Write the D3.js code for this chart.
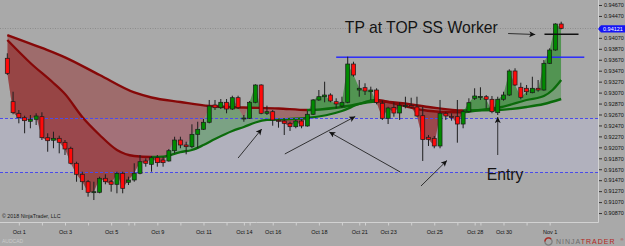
<!DOCTYPE html>
<html>
<head>
<meta charset="utf-8">
<script src="https://cdn.jsdelivr.net/npm/d3@7"></script>
<style>
  html, body { margin: 0; padding: 0; background: #a9a9a9; overflow: hidden; }
  svg { display: block; font-family: 'Liberation Sans', Arial, sans-serif; }
</style>
</head>
<body>
<div id="app"></div>
<script>
// AUDCAD 6h candles, Oct 1 - Nov 1 2018
const opens = [
  0.93697, 0.92904, 0.92692, 0.92612, 0.92546, 0.92582, 0.92630, 0.92246, 0.92199, 0.92235,
  0.92162, 0.92053, 0.91779, 0.91578, 0.91442, 0.91249, 0.91249, 0.91505, 0.91442, 0.91395,
  0.91596, 0.91432, 0.91474, 0.91596, 0.91821, 0.91760, 0.91881, 0.91839, 0.91821, 0.92009,
  0.92204, 0.92113, 0.92082, 0.92308, 0.92400, 0.92528, 0.92844, 0.92794, 0.92893, 0.92770,
  0.92977, 0.92593, 0.92601, 0.92893, 0.93209, 0.92692, 0.92721, 0.92564, 0.92551, 0.92509,
  0.92447, 0.92551, 0.92460, 0.92674, 0.92935, 0.92995, 0.93026, 0.92904, 0.92825, 0.92893,
  0.93592, 0.93117, 0.93160, 0.93086, 0.93117, 0.92875, 0.92601, 0.92798, 0.92697, 0.92816,
  0.92834, 0.92807, 0.92648, 0.92254, 0.92235, 0.92095, 0.92692, 0.92633, 0.92630, 0.92496,
  0.92721, 0.92966, 0.92991, 0.92995, 0.92948, 0.92703, 0.92948, 0.93026, 0.93465, 0.93167,
  0.93149, 0.93068, 0.93149, 0.93117, 0.93605, 0.93848, 0.94323,
];
const highs = [
  0.93788, 0.93086, 0.92752, 0.92648, 0.92661, 0.92692, 0.92710, 0.92327, 0.92356, 0.92283,
  0.92204, 0.92082, 0.91808, 0.91625, 0.91474, 0.91442, 0.91534, 0.91578, 0.91474, 0.91625,
  0.91625, 0.91534, 0.91779, 0.91930, 0.91870, 0.91912, 0.91930, 0.91899, 0.92040, 0.92264,
  0.92264, 0.92173, 0.92491, 0.92538, 0.92588, 0.92935, 0.92935, 0.92953, 0.92953, 0.93013,
  0.93013, 0.92661, 0.92917, 0.93222, 0.93222, 0.92831, 0.92752, 0.92582, 0.92582, 0.92538,
  0.92570, 0.92582, 0.92734, 0.92953, 0.93117, 0.93269, 0.93057, 0.92966, 0.92995, 0.93726,
  0.93634, 0.93300, 0.93240, 0.93178, 0.93149, 0.92926, 0.92812, 0.92893, 0.92893, 0.92995,
  0.92977, 0.92995, 0.92807, 0.92296, 0.92277, 0.92935, 0.92721, 0.92692, 0.92935, 0.92752,
  0.92966, 0.93149, 0.93167, 0.93026, 0.93008, 0.92995, 0.93086, 0.93496, 0.93514, 0.93251,
  0.93209, 0.93360, 0.93300, 0.93665, 0.93879, 0.94336, 0.94365,
];
const lows = [
  0.93391, 0.92674, 0.92509, 0.92327, 0.92418, 0.92478, 0.92204, 0.91990, 0.92053, 0.91961,
  0.91930, 0.91760, 0.91442, 0.91291, 0.91169, 0.91108, 0.91231, 0.91395, 0.91260, 0.91231,
  0.91231, 0.91382, 0.91442, 0.91578, 0.91717, 0.91625, 0.91717, 0.91717, 0.91808, 0.91961,
  0.92053, 0.91943, 0.92053, 0.92053, 0.92387, 0.92509, 0.92752, 0.92770, 0.92692, 0.92752,
  0.92770, 0.92538, 0.92588, 0.92875, 0.92674, 0.92661, 0.92465, 0.92429, 0.92296, 0.92369,
  0.92418, 0.92418, 0.92447, 0.92661, 0.92917, 0.92893, 0.92893, 0.92783, 0.92794, 0.92875,
  0.93360, 0.92995, 0.93026, 0.92935, 0.92856, 0.92570, 0.92496, 0.92630, 0.92570, 0.92783,
  0.92783, 0.92630, 0.91821, 0.92095, 0.92053, 0.92053, 0.92570, 0.92557, 0.92155, 0.92418,
  0.92703, 0.92935, 0.92935, 0.92783, 0.92692, 0.92661, 0.92922, 0.93008, 0.93191, 0.92948,
  0.93026, 0.93057, 0.93086, 0.93105, 0.93592, 0.93835, 0.94226,
];
const closes = [
  0.93422, 0.92703, 0.92612, 0.92557, 0.92582, 0.92643, 0.92246, 0.92191, 0.92235, 0.92162,
  0.92040, 0.91779, 0.91578, 0.91442, 0.91249, 0.91260, 0.91505, 0.91442, 0.91395, 0.91596,
  0.91322, 0.91474, 0.91596, 0.91808, 0.91779, 0.91881, 0.91790, 0.91790, 0.92009, 0.92204,
  0.92113, 0.92082, 0.92308, 0.92400, 0.92528, 0.92825, 0.92794, 0.92893, 0.92770, 0.92977,
  0.92794, 0.92606, 0.92893, 0.93209, 0.92692, 0.92721, 0.92570, 0.92555, 0.92509, 0.92447,
  0.92551, 0.92460, 0.92674, 0.92935, 0.92995, 0.93026, 0.92917, 0.92862, 0.92893, 0.93592,
  0.93391, 0.93149, 0.93099, 0.93117, 0.92889, 0.92601, 0.92789, 0.92697, 0.92834, 0.92834,
  0.92807, 0.92643, 0.92213, 0.92217, 0.92095, 0.92692, 0.92643, 0.92628, 0.92496, 0.92721,
  0.92886, 0.93008, 0.92999, 0.92948, 0.92721, 0.92948, 0.93026, 0.93465, 0.93209, 0.92984,
  0.93086, 0.93149, 0.93117, 0.93605, 0.93848, 0.94323, 0.94244,
];

// the two moving averages, read at a few bars each
const slowIdx = [0, 6, 10, 16, 22, 25, 30, 35, 41, 47, 52, 58, 64, 68, 73, 79, 85, 90, 93, 96];
const slowVals = [
  0.94122, 0.93885, 0.93715, 0.93391, 0.93072, 0.92981, 0.92898, 0.92825, 0.92798, 0.92780,
  0.92752, 0.92807, 0.92907, 0.92880, 0.92807, 0.92743, 0.92752, 0.92807, 0.92862, 0.92953,
];
const fastIdx = [0, 4, 8, 10, 13, 16, 19, 22, 25, 27, 30, 32, 34, 36, 39, 41, 43, 45, 49, 52,
  58, 61, 64, 68, 72, 76, 79, 82, 86, 90, 93, 94.5, 96];
const fastVals = [
  0.94031, 0.93611, 0.93245, 0.93044, 0.92624, 0.92296, 0.92022, 0.91912, 0.91894, 0.91899,
  0.91985, 0.92022, 0.92113, 0.92223, 0.92369, 0.92442, 0.92524, 0.92570, 0.92588, 0.92606,
  0.92734, 0.92862, 0.92935, 0.92844, 0.92752, 0.92716, 0.92710, 0.92752, 0.92816, 0.92935,
  0.93008, 0.93117, 0.93300,
];

const dayLabels = ['Oct 1', 'Oct 3', 'Oct 5', 'Oct 9', 'Oct 11', 'Oct 14', 'Oct 16', 'Oct 18',
  'Oct 21', 'Oct 23', 'Oct 25', 'Oct 28', 'Oct 30', 'Nov 1'];
const dayLabelIdx = [2, 10, 18, 26, 34, 41, 46, 54, 61, 66, 74, 81, 86, 94];
const dayTickIdx = [2, 6, 10, 14, 18, 21, 22, 26, 30, 34, 38, 41, 42, 46, 50, 54, 58, 61, 62,
  66, 70, 74, 78, 81, 82, 86, 90, 94];

const priceTicks = [0.94670, 0.94470, 0.94270, 0.94070, 0.93870, 0.93670, 0.93470, 0.93270,
  0.93070, 0.92870, 0.92670, 0.92470, 0.92270, 0.92070, 0.91870, 0.91670, 0.91470, 0.91270,
  0.91070, 0.90870];

// zone and levels drawn by the trader
const zoneTop = 0.92612;
const zoneBottom = 0.91625;
const resistance = 0.93720;
const resistanceSpan = [57, 100];
const tpLevel = 0.94135;
const tpSpan = [93.1, 99];
const lastPriceText = '0.94121';

// annotation arrows [bar, price] -> [bar, price]
const arrowFrom = [[40.0, 0.91875], [48.1, 0.91949], [68.1, 0.91620], [71.7, 0.91364],
  [85.0, 0.91930], [86.8, 0.94149]];
const arrowTo = [[44.1, 0.92405], [60.3, 0.92633], [55.8, 0.92350], [76.2, 0.91830],
  [85.0, 0.92624], [91.5, 0.94131]];
const notes = [
  { text: 'TP at TOP SS Worker', at: [58.5, 0.94152] },
  { text: 'Entry', at: [83.1, 0.91474] },
];

const width = 625;
const height = 246;
const plotW = 598;
const plotH = 222;

const lineRed = '#860808';
const lineGreen = '#0b6b0b';
const fillRed = 'rgba(139,0,0,0.36)';
const fillGreen = 'rgba(0,128,0,0.30)';

const svg = d3.select('#app').append('svg').attr('width', width).attr('height', height);
const defs = svg.append('defs');

const xScale = d3.scaleLinear().domain([0, 96]).range([7.3, 561.2]);
const yScale = d3.scaleLinear().domain([0.907065, 0.947613]).range([plotH, 0]);

// snap a y to the pixel grid so thin lines stay sharp
const crisp = y => Math.round(y) + 0.5;

svg.append('rect').attr('width', width).attr('height', height).attr('fill', '#a9a9a9');

defs.append('clipPath').attr('id', 'plotClip')
  .append('rect').attr('width', plotW).attr('height', plotH);

const plot = svg.append('g').attr('clip-path', 'url(#plotClip)');

// lighter zone between the two dashed levels
plot.append('rect')
  .attr('x', 0).attr('width', plotW)
  .attr('y', crisp(yScale(zoneTop)))
  .attr('height', crisp(yScale(zoneBottom)) - crisp(yScale(zoneTop)))
  .attr('fill', '#b1b1bd');

// last price dotted line
const lastClose = closes[closes.length - 1];
plot.append('line')
  .attr('x1', 0).attr('x2', plotW)
  .attr('y1', crisp(yScale(lastClose))).attr('y2', crisp(yScale(lastClose)))
  .attr('stroke', '#8c8c8c').attr('stroke-width', 1).attr('stroke-dasharray', '1,1.5');

// fills between each average and the close, split by clip paths
const closePts = closes.map((c, i) => [i, c]);
defs.append('clipPath').attr('id', 'aboveClose').append('path')
  .attr('d', d3.area().x(d => xScale(d[0])).y0(0).y1(d => yScale(d[1]))(closePts));
defs.append('clipPath').attr('id', 'belowClose').append('path')
  .attr('d', d3.area().x(d => xScale(d[0])).y0(d => yScale(d[1])).y1(plotH)(closePts));

function drawAverage(id, idx, vals) {
  const pts = idx.map((d, i) => [d, vals[i]]);
  const upArea = d3.area().curve(d3.curveMonotoneX)
    .x(d => xScale(d[0])).y0(0).y1(d => yScale(d[1]));
  const downArea = d3.area().curve(d3.curveMonotoneX)
    .x(d => xScale(d[0])).y0(d => yScale(d[1])).y1(plotH);
  plot.append('path').attr('d', upArea(pts)).attr('fill', fillGreen)
    .attr('clip-path', 'url(#belowClose)');
  plot.append('path').attr('d', downArea(pts)).attr('fill', fillRed)
    .attr('clip-path', 'url(#aboveClose)');

  // line coloured by its slope
  const grad = defs.append('linearGradient').attr('id', id)
    .attr('gradientUnits', 'userSpaceOnUse')
    .attr('x1', 0).attr('x2', plotW).attr('y1', 0).attr('y2', 0);
  for (let k = 0; k < idx.length - 1; k++) {
    const col = vals[k + 1] > vals[k] ? lineGreen : lineRed;
    grad.append('stop').attr('offset', xScale(idx[k]) / plotW).attr('stop-color', col);
    grad.append('stop').attr('offset', xScale(idx[k + 1]) / plotW).attr('stop-color', col);
  }
  return pts;
}

const slowPts = drawAverage('slowGrad', slowIdx, slowVals);
const fastPts = drawAverage('fastGrad', fastIdx, fastVals);

const lineFunc = d3.line().curve(d3.curveMonotoneX)
  .x(d => xScale(d[0])).y(d => yScale(d[1]));
plot.append('path').attr('d', lineFunc(slowPts)).attr('fill', 'none')
  .attr('stroke', 'url(#slowGrad)').attr('stroke-width', 2.4);
plot.append('path').attr('d', lineFunc(fastPts)).attr('fill', 'none')
  .attr('stroke', 'url(#fastGrad)').attr('stroke-width', 2.3);

// dashed zone borders
[zoneTop, zoneBottom].forEach(p => {
  plot.append('line')
    .attr('x1', 0).attr('x2', plotW).attr('y1', crisp(yScale(p))).attr('y2', crisp(yScale(p)))
    .attr('stroke', '#4b4bea').attr('stroke-width', 1).attr('stroke-dasharray', '3,2');
});

// resistance line
plot.append('rect')
  .attr('x', xScale(resistanceSpan[0]))
  .attr('width', xScale(resistanceSpan[1]) - xScale(resistanceSpan[0]))
  .attr('y', Math.round(yScale(resistance)) - 0.5).attr('height', 1.4)
  .attr('fill', '#2323ff');

// candles
const candles = plot.append('g').selectAll('g')
  .data(closes.map((c, i) => ({ i, o: opens[i], h: highs[i], l: lows[i], c })))
  .enter().append('g');

candles.append('line')
  .attr('x1', d => xScale(d.i)).attr('x2', d => xScale(d.i))
  .attr('y1', d => yScale(d.h)).attr('y2', d => yScale(d.l))
  .attr('stroke', '#1e1e1e').attr('stroke-width', 1);

candles.append('rect')
  .attr('x', d => xScale(d.i) - 2)
  .attr('width', 4)
  .attr('y', d => yScale(Math.max(d.o, d.c)))
  .attr('height', d => Math.max(1, Math.abs(yScale(d.o) - yScale(d.c))))
  .attr('fill', d => (d.c >= d.o ? '#008a00' : '#ff0a0a'))
  .attr('stroke', '#1b1b1b').attr('stroke-width', 0.7);

// TP marker line
plot.append('line')
  .attr('x1', xScale(tpSpan[0])).attr('x2', xScale(tpSpan[1]))
  .attr('y1', yScale(tpLevel)).attr('y2', yScale(tpLevel))
  .attr('stroke', '#111').attr('stroke-width', 1.4);

// arrows
defs.append('marker').attr('id', 'head')
  .attr('markerUnits', 'userSpaceOnUse')
  .attr('markerWidth', 7).attr('markerHeight', 7)
  .attr('refX', 6).attr('refY', 3)
  .attr('orient', 'auto')
  .append('path').attr('d', 'M0,0 L6,3 L0,6 L1.5,3 z').attr('fill', '#111');

arrowFrom.forEach((f, k) => {
  const t = arrowTo[k];
  plot.append('line')
    .attr('x1', xScale(f[0])).attr('y1', yScale(f[1]))
    .attr('x2', xScale(t[0])).attr('y2', yScale(t[1]))
    .attr('stroke', '#222').attr('stroke-width', 0.9)
    .attr('marker-end', 'url(#head)');
});

notes.forEach(n => {
  plot.append('text')
    .attr('x', xScale(n.at[0])).attr('y', yScale(n.at[1]))
    .attr('font-size', 15.7).attr('fill', '#141414')
    .text(n.text);
});

// axes
const axisColor = '#d2d2d2';
svg.append('line').attr('x1', plotW + 0.5).attr('x2', plotW + 0.5).attr('y1', 0).attr('y2', plotH + 0.5)
  .attr('stroke', axisColor).attr('stroke-width', 1);
svg.append('line').attr('x1', 0).attr('x2', plotW + 0.5).attr('y1', plotH + 0.5).attr('y2', plotH + 0.5)
  .attr('stroke', axisColor).attr('stroke-width', 1);

// the price box sits on top of the axis; the tick label under it is hidden
const lastY = yScale(lastClose) + 0.6;
const yAxis = d3.axisRight(yScale).tickValues(priceTicks)
  .tickFormat(d => (Math.abs(yScale(d) - lastY) < 5 ? '' : d3.format('.5f')(d)))
  .tickSize(3).tickPadding(2);
const yAxisGroup = svg.append('g').attr('transform', `translate(${plotW + 1},0)`).call(yAxis);
yAxisGroup.select('.domain').remove();
yAxisGroup.selectAll('line').attr('stroke', '#333');
yAxisGroup.selectAll('text').attr('font-size', 5.5).attr('fill', '#111')
  .attr('font-family', "'Liberation Sans', Arial, sans-serif");

const xAxis = d3.axisBottom(xScale).tickValues(dayTickIdx)
  .tickFormat(d => {
    const k = dayLabelIdx.indexOf(d);
    return k >= 0 ? dayLabels[k] : '';
  })
  .tickSize(3).tickPadding(5);
const xAxisGroup = svg.append('g').attr('transform', `translate(0,${plotH + 0.5})`).call(xAxis);
xAxisGroup.select('.domain').remove();
xAxisGroup.selectAll('line').attr('stroke', axisColor);
xAxisGroup.selectAll('text').attr('font-size', 5.5).attr('fill', '#111')
  .attr('font-family', "'Liberation Sans', Arial, sans-serif");

// last price box on the axis
svg.append('path')
  .attr('d', `M${plotW},${lastY} L${plotW + 3},${lastY - 3.6} L${width},${lastY - 3.6} L${width},${lastY + 3.6} L${plotW + 3},${lastY + 3.6} Z`)
  .attr('fill', '#1414f5');
svg.append('text')
  .attr('x', plotW + 5).attr('y', lastY + 2)
  .attr('font-size', 5.5).attr('fill', '#fff')
  .text(lastPriceText);

// footer texts
svg.append('text').attr('x', 2).attr('y', 218.3)
  .attr('font-size', 5.3).attr('fill', '#1a1a1a')
  .text('© 2018 NinjaTrader, LLC');
svg.append('text').attr('x', 2).attr('y', 243)
  .attr('font-size', 5).attr('fill', '#cbcbcb')
  .text('AUDCAD');

// NinjaTrader logo
const logo = svg.append('g').attr('transform', 'translate(548.5,241.5)');
logo.append('circle').attr('r', 3.6).attr('fill', 'none')
  .attr('stroke', '#7d7d7d').attr('stroke-width', 1.3);
logo.append('path').attr('d', 'M-3.6,0 A3.6,3.6 0 0,1 2.5,-2.6').attr('fill', 'none')
  .attr('stroke', '#b3261e').attr('stroke-width', 1.4);
const logoText = svg.append('text').attr('x', 556).attr('y', 244.2)
  .attr('font-size', 7).attr('letter-spacing', 1);
logoText.append('tspan').attr('fill', '#6c6c6c').text('NINJA');
logoText.append('tspan').attr('fill', '#b3261e').text('TRADER');
svg.append('text').attr('x', 620.5).attr('y', 240.5)
  .attr('font-size', 4).attr('fill', '#b3261e').text('®');
</script>
</body>
</html>
